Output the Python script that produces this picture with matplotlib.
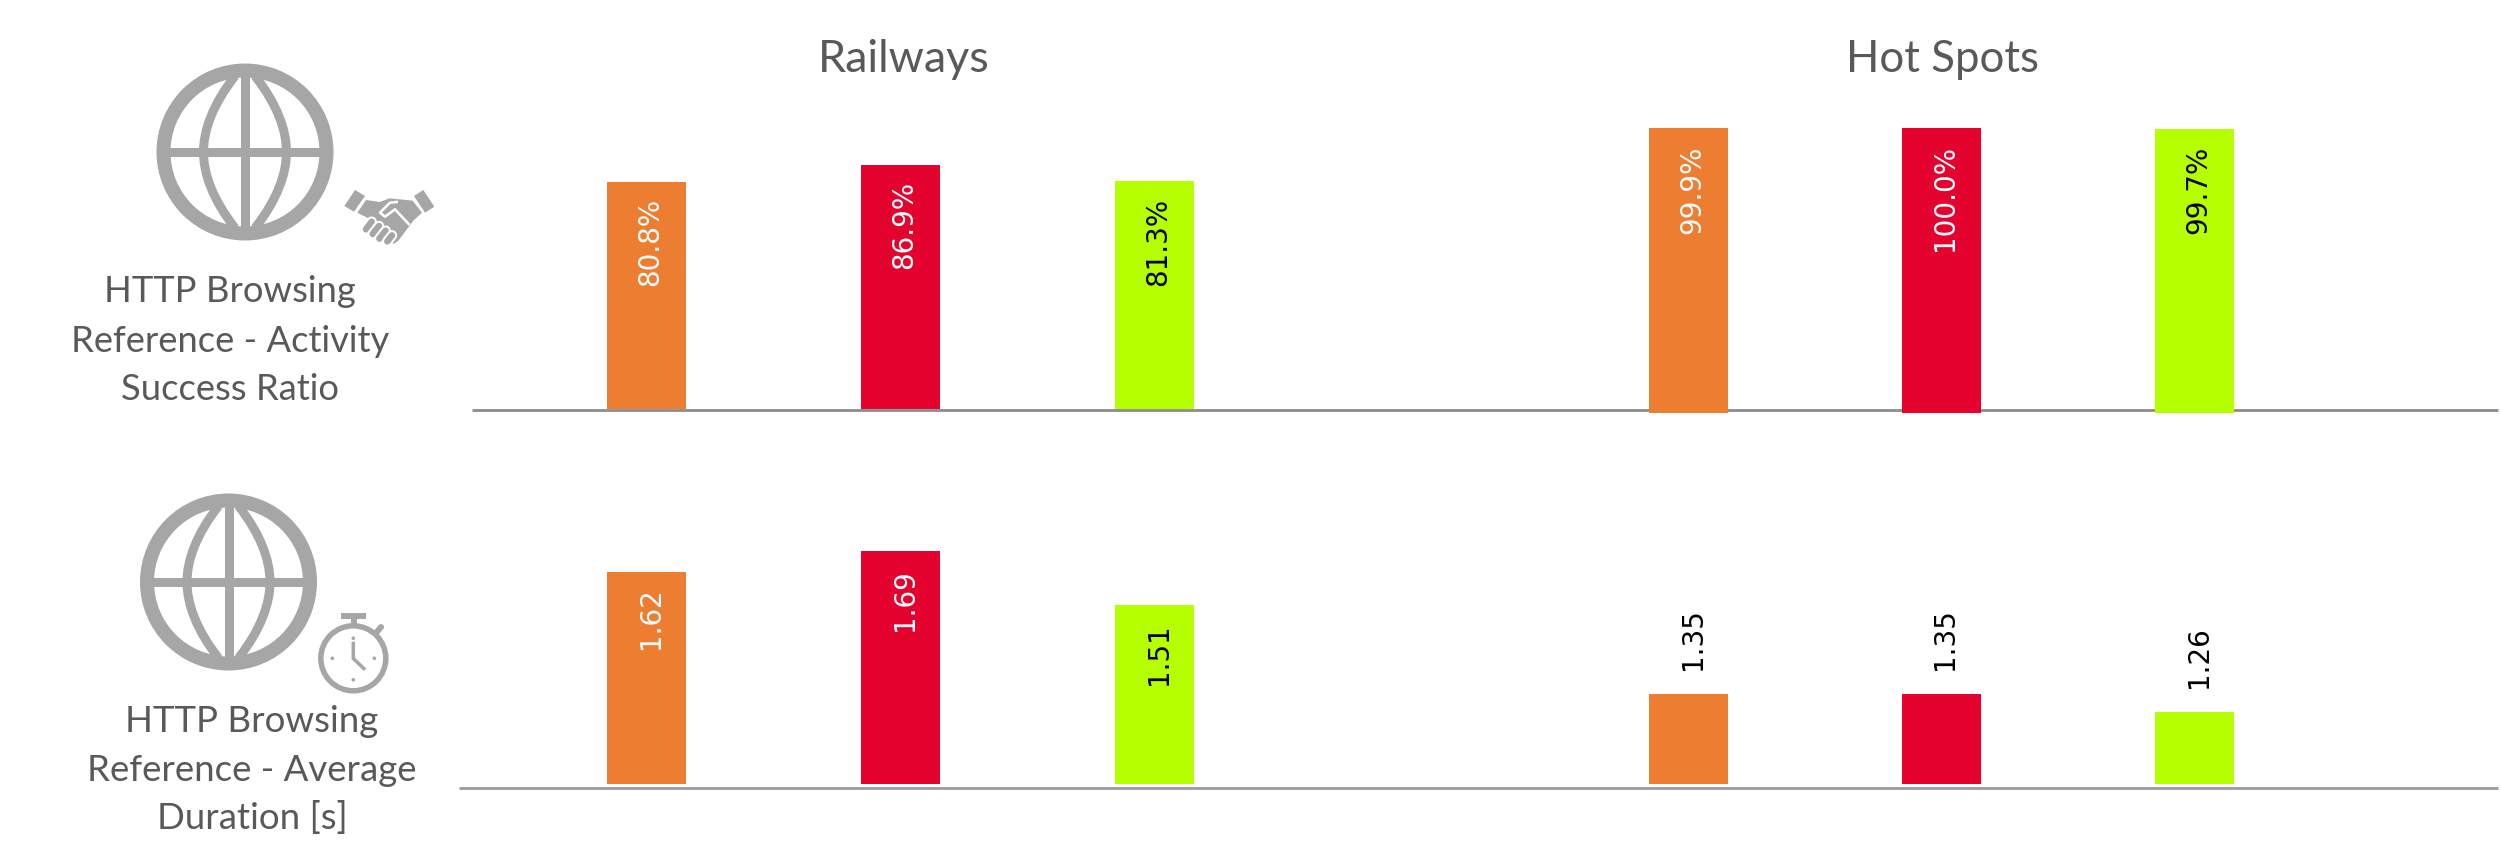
import matplotlib
matplotlib.use("Agg")
import matplotlib.pyplot as plt
from matplotlib.patches import Circle, Polygon, PathPatch, Rectangle
from matplotlib.path import Path

W, H = 2500, 866
DPI = 100
FONT = "Lato"
TEXT = "#595959"
ICON = "#a6a6a6"

groups = ["Railways", "Hot Spots"]
colors = ["#ed7d31", "#e4032e", "#b5ff00"]
label_colors = ["white", "white", "black"]

success_railways = [80.8, 86.9, 81.3]
success_hotspots = [99.9, 100.0, 99.7]
duration_railways = [1.62, 1.69, 1.51]
duration_hotspots = [1.35, 1.35, 1.26]

row_titles = [["HTTP Browsing", "Reference - Activity", "Success Ratio"],
              ["HTTP Browsing", "Reference - Average", "Duration [s]"]]

fig = plt.figure(figsize=(W / DPI, H / DPI), dpi=DPI, facecolor="white")


def px_axes(x0, y0, x1, y1, **kw):
    ax = fig.add_axes([x0 / W, 1 - y1 / H, (x1 - x0) / W, (y1 - y0) / H], **kw)
    ax.patch.set_alpha(0)
    ax.axis("off")
    return ax


def bars(rect, values, ylim, fmt, width, offsets, outside=False):
    ax = px_axes(*rect)
    ax.set_xlim(-0.5, 2.5)
    ax.set_ylim(*ylim)
    ax.bar(range(3), [v - ylim[0] for v in values], bottom=ylim[0], width=width,
           color=colors, linewidth=0, zorder=3)
    for i, v in enumerate(values):
        ax.annotate(fmt.format(v), xy=(i, v), xycoords="data",
                    xytext=(4, offsets[i] * (1 if outside else -1)),
                    textcoords="offset pixels", rotation=90, ha="center",
                    va="bottom" if outside else "top", fontsize=20,
                    family="DejaVu Sans",
                    color="black" if outside else label_colors[i], zorder=4,
                    annotation_clip=False)
    return ax


# overlay in pixel coordinates for baselines, titles and icons
ov = fig.add_axes([0, 0, 1, 1])
ov.set_xlim(0, W)
ov.set_ylim(H, 0)
ov.axis("off")

ov.plot([472, 2498], [409.7, 409.7], color="#8c8c8c", lw=2.0, solid_capstyle="butt", zorder=1)
ov.plot([459, 2498], [787.5, 787.5], color="#9a9a9a", lw=2.0, solid_capstyle="butt", zorder=1)

bars((519.5, 128, 1281.5, 409), success_railways, (0, 100), "{:.1f}%", 0.31, [16, 16, 17])
bars((1562, 128, 2321, 413), success_hotspots, (0, 100), "{:.1f}%", 0.313, [17, 17, 17])
bars((519.5, 518, 1281.5, 784), duration_railways, (0.913, 1.8), "{:.2f}", 0.31, [15, 18, 18])
bars((1562, 604, 2321, 784), duration_hotspots, (0.9, 1.8), "{:.2f}", 0.313, [24, 24, 24], outside=True)

ov.text(904, 72, groups[0], ha="center", va="baseline", fontsize=32.3, family=FONT, color=TEXT)
ov.text(1943, 72, groups[1], ha="center", va="baseline", fontsize=31.5, family=FONT, color=TEXT)

for cx, bases, lines, fs in [(230, (302, 352, 400), row_titles[0], 26.2), (252, (732, 781, 829), row_titles[1], 26.4)]:
    for b, s in zip(bases, lines):
        ov.text(cx, b, s, ha="center", va="baseline", fontsize=fs, family=FONT, color=TEXT)


def globe(cx, cy):
    ov.add_patch(Circle((cx, cy), 81.5, fc="none", ec=ICON, lw=14 * 0.72))
    ov.plot([cx, cx], [cy - 80, cy + 80], color=ICON, lw=9 * 0.72, solid_capstyle="butt")
    ov.plot([cx - 80, cx + 80], [cy, cy], color=ICON, lw=9 * 0.72, solid_capstyle="butt")
    for s in (-1, 1):
        verts = [(cx + s * 10, cy - 76), (cx + s * 32, cy - 48), (cx + s * 41.5, cy - 22), (cx + s * 41.5, cy),
                 (cx + s * 41.5, cy + 22), (cx + s * 32, cy + 48), (cx + s * 10, cy + 76)]
        codes = [Path.MOVETO] + [Path.CURVE4] * 6
        ov.add_patch(PathPatch(Path(verts, codes), fc="none", ec=ICON, lw=9 * 0.72))


globe(245, 152)
globe(228.5, 582)


def hs(x, y):
    return (330 + x / 3, 170 + y / 3)


def hs_poly(pts, **kw):
    ov.add_patch(Polygon([hs(*p) for p in pts], closed=True, fc=ICON, ec="none", **kw))


hs_poly([(75, 60), (105, 78), (72, 125), (43, 108)])
hs_poly([(280, 60), (313, 110), (285, 128), (252, 78)])
hs_poly([(108, 90), (150, 96), (178, 85), (248, 92), (276, 128), (250, 152), (205, 212),
         (190, 222), (150, 180), (115, 145), (82, 128)])
ws = [(236, 162), (195, 118), (165, 140), (150, 128), (180, 98), (200, 96)]
ov.plot(*zip(*[hs(*p) for p in ws]), color="white", lw=2.6 * 0.72, solid_joinstyle="round")
for a, b in [((108, 178), (125, 155)), ((128, 192), (147, 168)), ((148, 206), (167, 182)), ((172, 214), (186, 196))]:
    ov.plot(*zip(hs(*a), hs(*b)), color="white", lw=10.5 * 0.72, solid_capstyle="round")
    ov.plot(*zip(hs(*a), hs(*b)), color=ICON, lw=6.5 * 0.72, solid_capstyle="round")

# stopwatch
sx, sy = 353.3, 658.3
ov.add_patch(Circle((sx, sy), 32.5, fc="none", ec=ICON, lw=5.5 * 0.72))
ov.add_patch(Rectangle((341, 613.3), 25, 6, fc=ICON, ec="none"))
ov.add_patch(Rectangle((351, 619), 5.5, 7, fc=ICON, ec="none"))
ov.plot([376, 381], [633, 627], color=ICON, lw=6 * 0.72, solid_capstyle="round")
ov.plot([sx, sx, sx + 10.5], [643.5, 658.5, 668.5], color=ICON, lw=3.5 * 0.72, solid_joinstyle="miter")
for dx, dy in [(0, -20), (-21, 0), (21, 0), (0, 21.5)]:
    ov.add_patch(Circle((sx + dx, sy + dy), 1.8, fc=ICON, ec="none"))

fig.savefig("out.png", dpi=DPI, facecolor="white")
